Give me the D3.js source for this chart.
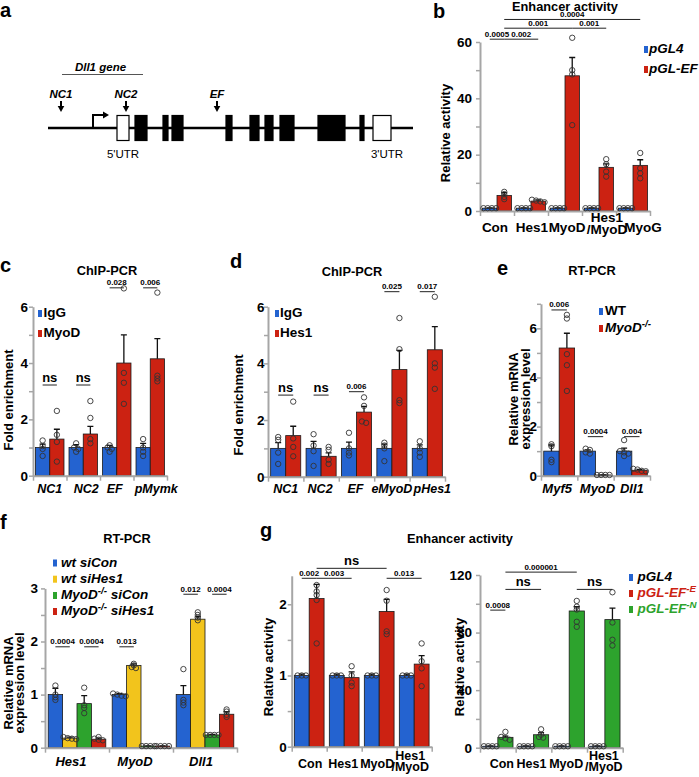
<!DOCTYPE html>
<html>
<head>
<meta charset="utf-8">
<script src="https://cdn.jsdelivr.net/npm/d3@7"></script>
<style>
  body { margin: 0; background: #fff; }
  svg { display: block; }
</style>
</head>
<body>
<svg id="fig" width="699" height="777"></svg>
<script>
//********************************************************************//
//                    DATA
//********************************************************************//

// panel a : gene model (arbitrary genomic units along the locus)
var geneLength = 365;
var exonStart = [69, 87, 115, 124, 178, 202, 217, 232, 270, 312, 325];
var exonEnd   = [81, 99, 120, 135, 184, 211, 225, 246, 297, 316, 343];
var exonOpen  = [true, false, false, false, false, false, false, false, false, false, true];
var tssPos = 45;
var probeNames = ["NC1", "NC2", "EF"];
var probePos = [13, 78, 169];

// panel b
var bGroups = ["Con", "Hes1", "MyoD", "Hes1/MyoD", "MyoG"];
var bSeries = ["pGL4", "pGL-EF"];
var bMean = [[1, 1, 1, 1, 1], [5.5, 3.5, 48, 15.5, 16.2]];
var bErr  = [[0.1, 0.1, 0.1, 0.1, 0.1], [1.0, 0.4, 6.5, 1.2, 2.0]];
var bDots = [[[1, 1, 1, 1], [1, 1, 1, 1], [1, 1, 1, 1], [1, 1, 1, 1], [1, 1, 1, 1]],
             [[6.8, 6.0, 5.0, 4.2], [4.0, 3.7, 3.4, 3.1], [61.5, 50, 48.5, 30.5], [18.4, 16.6, 14, 12.2], [20.6, 15.2, 13.4, 11.6]]];
var bSig = [{p: "0.0005", a: [0, 0], b: [0, 1], y: 61},
            {p: "0.002",  a: [0, 1], b: [1, 1], y: 61},
            {p: "0.001",  a: [0, 1], b: [2, 1], y: 64.9},
            {p: "0.001",  a: [2, 1], b: [3, 1], y: 64.9},
            {p: "0.0004", a: [0, 1], b: [4, 1], y: 68}];

// panel c
var cGroups = ["NC1", "NC2", "EF", "pMymk"];
var cSeries = ["IgG", "MyoD"];
var cMean = [[1, 1, 1, 1], [1.3, 1.48, 4.0, 4.15]];
var cErr  = [[0.12, 0.1, 0.08, 0.15], [0.35, 0.27, 1.0, 0.72]];
var cDots = [[[1.25, 1.05, 0.95, 0.7], [1.15, 1.0, 0.95, 0.85], [1.08, 1.0, 0.95, 0.85], [1.3, 1.0, 0.85, 0.7]],
             [[2.3, 1.45, 1.2, 0.5], [2.65, 2.05, 1.3, 1.15], [6.65, 3.65, 3.3, 2.55], [6.5, 3.55, 3.45, 3.35]]];
var cSig = [{p: "ns", a: [0, 0], b: [0, 1], y: 3.22},
            {p: "ns", a: [1, 0], b: [1, 1], y: 3.22},
            {p: "0.028", a: [2, 0], b: [2, 1], y: 6.67},
            {p: "0.006", a: [3, 0], b: [3, 1], y: 6.67}];

// panel d
var dGroups = ["NC1", "NC2", "EF", "eMyoD", "pHes1"];
var dSeries = ["IgG", "Hes1"];
var dMean = [[1, 1, 1, 1, 1], [1.45, 0.72, 2.28, 3.78, 4.48]];
var dErr  = [[0.2, 0.25, 0.22, 0.15, 0.12], [0.33, 0.12, 0.2, 0.68, 0.82]];
var dDots = [[[1.4, 1.3, 0.85, 0.45], [1.5, 1.1, 0.9, 0.38], [1.55, 1.0, 0.85, 0.75], [1.2, 1.1, 1.0, 0.55], [1.25, 1.0, 0.85, 0.7]],
             [[2.65, 1.35, 1.05, 0.72], [1.05, 0.95, 0.6, 0.45], [2.8, 2.5, 1.95, 1.9], [5.6, 4.5, 2.7, 2.6], [6.35, 4.0, 3.85, 3.1]]];
var dSig = [{p: "ns", a: [0, 0], b: [0, 1], y: 2.88},
            {p: "ns", a: [1, 0], b: [1, 1], y: 2.88},
            {p: "0.006", a: [2, 0], b: [2, 1], y: 3.0},
            {p: "0.025", a: [3, 0], b: [3, 1], y: 6.53},
            {p: "0.017", a: [4, 0], b: [4, 1], y: 6.53}];

// panel e
var eGroups = ["Myf5", "MyoD", "Dll1"];
var eSeries = ["WT", "MyoD^{-/-}"];
var eMean = [[1, 1, 1], [5.2, 0.03, 0.22]];
var eErr  = [[0.25, 0.05, 0.12], [0.6, 0.005, 0.04]];
var eDots = [[[1.28, 1.2, 0.65, 0.55], [1.1, 1.05, 0.95, 0.9], [1.45, 1.0, 0.95, 0.9, 0.8]],
             [[6.55, 6.4, 4.95, 4.5, 3.45], [0.03, 0.03, 0.03, 0.03], [0.28, 0.25, 0.2, 0.18]]];
var eSig = [{p: "0.006", a: [0, 0], b: [0, 1], y: 6.75},
            {p: "0.0004", a: [1, 0], b: [1, 1], y: 1.59},
            {p: "0.004", a: [2, 0], b: [2, 1], y: 1.59}];

// panel f
var fGroups = ["Hes1", "MyoD", "Dll1"];
var fSeries = ["wt siCon", "wt siHes1", "MyoD^{-/-} siCon", "MyoD^{-/-} siHes1"];
var fMean = [[1, 1, 1], [0.18, 1.55, 2.42], [0.83, 0.03, 0.24], [0.16, 0.03, 0.63]];
var fErr  = [[0.12, 0.02, 0.17], [0.02, 0.03, 0.05], [0.15, 0.003, 0.01], [0.02, 0.003, 0.05]];
var fDots = [[[1.17, 1.0, 0.95, 0.9], [1.02, 1.0, 0.98, 0.97], [1.48, 0.9, 0.85, 0.8]],
             [[0.2, 0.18, 0.17, 0.16], [1.58, 1.55, 1.52, 1.5], [2.55, 2.5, 2.45, 2.4]],
             [[1.13, 0.8, 0.75, 0.65], [0.03, 0.03, 0.03, 0.03], [0.24, 0.24, 0.24, 0.24]],
             [[0.2, 0.17, 0.15, 0.14], [0.03, 0.03, 0.03, 0.03], [0.72, 0.68, 0.62, 0.58]]];
var fSig = [{p: "0.0004", a: [0, 0], b: [0, 1], y: 1.9},
            {p: "0.0004", a: [0, 2], b: [0, 3], y: 1.9},
            {p: "0.013", a: [1, 0], b: [1, 1], y: 1.9},
            {p: "0.012", a: [2, 0], b: [2, 1], y: 2.89},
            {p: "0.0004", a: [2, 2], b: [2, 3], y: 2.89}];

// panel g
var gGroups = ["Con", "Hes1", "MyoD", "Hes1/MyoD"];
var gLegend = ["pGL4", "pGL-EF^{-E}", "pGL-EF^{-N}"];
var gLMean = [[1, 1, 1, 1], [2.08, 0.97, 1.9, 1.16]];
var gLErr  = [[0.02, 0.02, 0.02, 0.02], [0.2, 0.08, 0.17, 0.12]];
var gLDots = [[[1, 1, 1], [1, 1, 1], [1, 1, 1], [1, 1, 1]],
              [[2.27, 2.18, 2.13, 2.06, 1.45], [1.13, 1.0, 0.9, 0.85], [2.2, 2.05, 1.62, 1.58], [1.45, 1.2, 1.1, 0.85]]];
var gLSig = [{p: "0.002", a: [0, 0], b: [0, 1], y: 2.365},
             {p: "0.003", a: [0, 1], b: [1, 1], y: 2.365},
             {p: "0.013", a: [2, 1], b: [3, 1], y: 2.365},
             {p: "ns", a: [0, 1], b: [2, 1], y: 2.505}];
var gRMean = [[1, 1, 1, 1], [7.2, 9.0, 95, 89]];
var gRErr  = [[0.3, 0.3, 0.3, 0.3], [0.8, 1.5, 3, 8]];
var gRDots = [[[1, 1, 1, 1], [1, 1, 1, 1], [1, 1, 1, 1], [1, 1, 1, 1]],
              [[11, 7.5, 6.5, 5.5], [12.8, 9, 7.5, 7], [102, 98, 96, 87.5, 84], [108, 87, 75, 71]]];
var gRSig = [{p: "0.0008", a: [0, 0], b: [0, 1], y: 95.6},
             {p: "ns", a: [0, 1], b: [1, 1], y: 110},
             {p: "0.000001", a: [0, 1], b: [2, 1], y: 122},
             {p: "ns", a: [2, 1], b: [3, 1], y: 110}];

//********************************************************************//
//                    STYLE
//********************************************************************//
var FONT = "'Liberation Sans', Arial, Helvetica, sans-serif";
var BLUE = "#2463d0", RED = "#cc2212", GREEN = "#2da32d", YELLOW = "#f2c41c";
var AXIS = "#a6a6a6";

var svg = d3.select("#fig").attr("font-family", FONT);

// write "abc^{sup}def" as tspans with raised superscript
function rich(sel, str) {
  var parts = str.split(/(\^\{[^}]*\})/), raised = false;
  parts.forEach(function(p) {
    if (!p) return;
    if (p.charAt(0) === "^") {
      sel.append("tspan").attr("dy", -5).attr("font-size", "0.72em").text(p.slice(2, -1));
      raised = true;
    } else {
      var t = sel.append("tspan").text(p);
      if (raised) { t.attr("dy", 5); raised = false; }
    }
  });
}

function label(x, y, str, size, opts) {
  opts = opts || {};
  var t = svg.append("text").attr("x", x).attr("y", y)
    .attr("font-size", size)
    .attr("font-weight", opts.normal ? "normal" : "bold")
    .attr("font-style", opts.italic ? "italic" : "normal")
    .attr("text-anchor", opts.anchor || "start")
    .attr("fill", opts.fill || "#000");
  rich(t, str);
  return t;
}

function legend(names, colors, x, gap, baselines, textColors) {
  names.forEach(function(n, i) {
    svg.append("rect").attr("x", x).attr("y", baselines[i] - 7).attr("width", 4).attr("height", 7)
       .attr("fill", colors[i]);
    label(x + gap, baselines[i], n, 13.5, {italic: /pGL|wt|MyoD\^/.test(n), fill: textColors ? textColors[i] : "#000"});
  });
}

//********************************************************************//
//                    BAR PANEL
//********************************************************************//
function barPanel(c) {
  var g = svg.append("g");
  var n = c.groups.length, m = c.colors.length;
  var occ = c.occ || 0.85;
  var y = d3.scaleLinear().domain([0, c.yMax]).range([c.y0, c.yTop]);
  var x = d3.scaleBand().domain(d3.range(n)).range([c.x0, c.x1]);
  var xs = d3.scaleBand().domain(d3.range(m)).range([0, x.bandwidth()])
             .paddingOuter(m * (1 - occ) / (2 * occ));
  var xb = d3.scaleLinear().domain([0, n]).range([c.x0, c.x1]);
  function cx(gi, si) { return x(gi) + xs(si) + xs.bandwidth() / 2; }

  // bars
  c.mean.forEach(function(ser, si) {
    g.selectAll(null).data(ser).enter().append("rect")
     .attr("x", function(d, i) { return x(i) + xs(si); })
     .attr("y", function(d) { return y(d); })
     .attr("width", xs.bandwidth())
     .attr("height", function(d) { return c.y0 - y(d); })
     .attr("fill", c.colors[si])
     .attr("stroke", "#1a1a1a").attr("stroke-width", 0.8);
  });

  // axes
  var ya = d3.axisLeft(y)
    .tickValues(d3.range(0, c.yMax + 1e-9, c.tickStep))
    .tickSize(4).tickSizeOuter(0).tickPadding(c.labGap - 4)
    .tickFormat(function(v) {
      var r = v / c.labelStep;
      return Math.abs(r - Math.round(r)) < 1e-6 ? d3.format("")(v) : "";
    });
  var ay = g.append("g").attr("transform", "translate(" + c.x0 + ",0)").call(ya);
  ay.attr("font-size", 13.5).attr("font-family", FONT).attr("font-weight", "bold");
  ay.select(".domain").attr("stroke", AXIS).attr("stroke-width", 2);
  ay.selectAll(".tick line").attr("stroke", AXIS).attr("stroke-width", 1.5);
  ay.selectAll(".tick text").attr("fill", "#000");

  var xa = d3.axisBottom(xb).tickValues(d3.range(n + 1)).tickSize(5).tickSizeOuter(0).tickFormat("");
  var ax = g.append("g").attr("transform", "translate(0," + c.y0 + ")").call(xa);
  ax.select(".domain").attr("stroke", AXIS).attr("stroke-width", 2);
  ax.selectAll(".tick line").attr("stroke", AXIS).attr("stroke-width", 1.5);

  // error bars
  c.err.forEach(function(ser, si) {
    g.selectAll(null).data(ser).enter().append("path")
     .attr("d", function(e, i) {
        var xx = cx(i, si), y1 = y(c.mean[si][i]), y2 = y(c.mean[si][i] + e);
        return "M" + xx + "," + y1 + "V" + y2 + "M" + (xx - 3) + "," + y2 + "H" + (xx + 3);
     })
     .attr("fill", "none").attr("stroke", "#111").attr("stroke-width", 1.3);
  });

  // dots: equal values spread sideways, others stacked on the bar centre
  var pts = [];
  c.dots.forEach(function(ser, si) {
    ser.forEach(function(vals, gi) {
      var py = vals.map(function(v) { return y(v); }).sort(function(a, b) { return a - b; });
      var k = 0;
      while (k < py.length) {
        var j = k;
        while (j + 1 < py.length && py[j + 1] - py[j] < 1.5) j++;
        var cnt = j - k + 1;
        for (var q = 0; q < cnt; q++) {
          pts.push({x: cx(gi, si) + (q - (cnt - 1) / 2) * 4.2, y: py[k + q]});
        }
        k = j + 1;
      }
    });
  });
  g.selectAll(null).data(pts).enter().append("circle")
   .attr("cx", function(d) { return d.x; })
   .attr("cy", function(d) { return d.y; })
   .attr("r", 2.7)
   .attr("fill", "none").attr("stroke", "#333").attr("stroke-width", 0.9);

  // significance brackets
  c.sig.forEach(function(s) {
    var xa1 = cx(s.a[0], s.a[1]), xa2 = cx(s.b[0], s.b[1]), yy = y(s.y);
    g.append("line").attr("x1", xa1).attr("x2", xa2).attr("y1", yy).attr("y2", yy)
     .attr("stroke", "#222").attr("stroke-width", 1);
    g.append("text").attr("x", (xa1 + xa2) / 2).attr("y", yy - (s.p === "ns" ? 3 : 2.5))
     .attr("text-anchor", "middle").attr("font-weight", "bold")
     .attr("font-size", s.p === "ns" ? 13 : 8).text(s.p);
  });

  // category labels
  c.groups.forEach(function(lab, i) {
    var parts = lab.split(/(?=\/)/);
    var xx = x(i) + x.bandwidth() / 2 + (c.labDx ? c.labDx[i] : 0);
    var ys = parts.length === 1 ? [c.labY] : c.labY2;
    parts.forEach(function(p, k) {
      g.append("text").attr("x", xx).attr("y", ys[k]).attr("text-anchor", "middle")
       .attr("font-size", c.labSize).attr("font-weight", "bold")
       .attr("font-style", c.italic ? "italic" : "normal").text(p);
    });
  });

  // y title
  c.yTitle.forEach(function(t, k) {
    g.append("text").attr("transform", "translate(" + c.yTitleX[k] + "," + c.yTitleY + ") rotate(-90)")
     .attr("text-anchor", "middle").attr("font-size", 13).attr("font-weight", "bold").text(t);
  });
}

//********************************************************************//
//                    PANEL A : gene model
//********************************************************************//
var xg = d3.scaleLinear().domain([0, geneLength]).range([48, 413]);
var lineY = 128;

svg.append("line").attr("x1", xg(0)).attr("x2", xg(geneLength)).attr("y1", lineY).attr("y2", lineY)
   .attr("stroke", "#000").attr("stroke-width", 2.6);

svg.selectAll(null).data(exonStart).enter().append("rect")
   .attr("x", function(d) { return xg(d); })
   .attr("width", function(d, i) { return xg(exonEnd[i]) - xg(d); })
   .attr("y", 115.5).attr("height", 25)
   .attr("fill", function(d, i) { return exonOpen[i] ? "#fff" : "#000"; })
   .attr("stroke", "#000").attr("stroke-width", 1.2);

// transcription start arrow
var tx = xg(tssPos);
svg.append("path").attr("d", "M" + tx + "," + lineY + "V115H" + (tx + 11))
   .attr("fill", "none").attr("stroke", "#000").attr("stroke-width", 2);
svg.append("path").attr("d", "M" + (tx + 10) + ",111.5L" + (tx + 16) + ",115L" + (tx + 10) + ",118.5Z")
   .attr("fill", "#000");

// probes
probeNames.forEach(function(nm, i) {
  var px = xg(probePos[i]);
  label(px, 98, nm, 11.5, {italic: true, anchor: "middle"});
  svg.append("line").attr("x1", px).attr("x2", px).attr("y1", 101).attr("y2", 107)
     .attr("stroke", "#000").attr("stroke-width", 2);
  svg.append("path").attr("d", "M" + (px - 3.3) + ",106L" + (px + 3.3) + ",106L" + px + ",112Z").attr("fill", "#000");
});

label(100.5, 71, "Dll1 gene", 11.5, {italic: true, anchor: "middle"});
svg.append("line").attr("x1", 62).attr("x2", 143).attr("y1", 74.5).attr("y2", 74.5)
   .attr("stroke", "#555").attr("stroke-width", 1);
label(xg((exonStart[0] + exonEnd[0]) / 2), 158, "5'UTR", 11.5, {normal: true, anchor: "middle"});
label(xg((exonStart[10] + exonEnd[10]) / 2) + 5, 158, "3'UTR", 11.5, {normal: true, anchor: "middle"});

//********************************************************************//
//                    BAR PANELS
//********************************************************************//
barPanel({groups: bGroups, colors: [BLUE, RED], mean: bMean, err: bErr, dots: bDots, sig: bSig,
          x0: 480, x1: 650, y0: 211, yTop: 42, yMax: 60, tickStep: 10, labelStep: 20, labGap: 8,
          labY: 231.5, labY2: [222, 233.5], italic: false, labSize: 13.5, labDx: [-2, 1, 2, 8, 10],
          yTitle: ["Relative activity"], yTitleX: [449.5], yTitleY: 133});
legend(bSeries, [BLUE, RED], 644, 5, [53, 73]);

barPanel({groups: cGroups, colors: [BLUE, RED], mean: cMean, err: cErr, dots: cDots, sig: cSig,
          x0: 33, x1: 167, y0: 475.7, yTop: 306.7, yMax: 6, tickStep: 1, labelStep: 2, labGap: 5,
          labY: 492.5, italic: true, labSize: 12.5, labDx: [0, 3, -2, 6],
          yTitle: ["Fold enrichment"], yTitleX: [12.5], yTitleY: 400});
legend(cSeries, [BLUE, RED], 38, 5.5, [317, 337]);

barPanel({groups: dGroups, colors: [BLUE, RED], mean: dMean, err: dErr, dots: dDots, sig: dSig,
          x0: 268, x1: 445, y0: 476.7, yTop: 306.7, yMax: 6, tickStep: 1, labelStep: 2, labGap: 3.5,
          labY: 492.5, italic: true, labSize: 12.5, labDx: [0, -1, -1, 0, 5],
          yTitle: ["Fold enrichment"], yTitleX: [242.5], yTitleY: 405});
legend(dSeries, [BLUE, RED], 275, 5, [317, 337]);

barPanel({groups: eGroups, colors: [BLUE, RED], mean: eMean, err: eErr, dots: eDots, sig: eSig,
          x0: 541, x1: 650, y0: 475.7, yTop: 303.8, yMax: 7, tickStep: 1, labelStep: 2, labGap: 4,
          labY: 493, italic: true, labSize: 13, labDx: [-2, 2, 0],
          yTitle: ["Relative mRNA", "expression level"], yTitleX: [518, 529.5], yTitleY: 399});
legend(eSeries, [BLUE, RED], 599, 6, [315, 332]);

barPanel({groups: fGroups, colors: [BLUE, YELLOW, GREEN, RED], mean: fMean, err: fErr, dots: fDots, sig: fSig,
          x0: 45, x1: 237, y0: 747.7, yTop: 588.4, yMax: 3, tickStep: 0.5, labelStep: 1, labGap: 7, occ: 0.9,
          labY: 766, italic: true, labSize: 13, labDx: [-6, -6, -4],
          yTitle: ["Relative mRNA", "expression level"], yTitleX: [13, 23.5], yTitleY: 683});
legend(fSeries, [BLUE, YELLOW, GREEN, RED], 53, 8, [566.5, 582.7, 599, 615]);

barPanel({groups: gGroups, colors: [BLUE, RED], mean: gLMean, err: gLErr, dots: gLDots, sig: gLSig,
          x0: 291.7, x1: 431.7, y0: 746.7, yTop: 575.8, yMax: 2.4, tickStep: 0.5, labelStep: 1, labGap: 5,
          labY: 768, labY2: [759.5, 771], italic: false, labSize: 12.5, labDx: [1, -1, -2, -4],
          yTitle: ["Relative activity"], yTitleX: [272.5], yTitleY: 667});

barPanel({groups: gGroups, colors: [BLUE, GREEN], mean: gRMean, err: gRErr, dots: gRDots, sig: gRSig,
          x0: 480, x1: 622.7, y0: 747.7, yTop: 575, yMax: 120, tickStep: 20, labelStep: 40, labGap: 8,
          labY: 768, labY2: [759.5, 771], italic: false, labSize: 12.5, labDx: [4, -2, -3, -1],
          yTitle: ["Relative activity"], yTitleX: [463.5], yTitleY: 667});
legend(gLegend, [BLUE, RED, GREEN], 629, 8.5, [581, 597, 613], ["#000", RED, GREEN]);

//********************************************************************//
//                    TITLES + PANEL LETTERS
//********************************************************************//
label(565, 10.5, "Enhancer activity", 12.8, {anchor: "middle"});
label(107, 275, "ChIP-PCR", 12.8, {anchor: "middle"});
label(352, 275.5, "ChIP-PCR", 12.8, {anchor: "middle"});
label(592, 275, "RT-PCR", 12.8, {anchor: "middle"});
label(127, 543, "RT-PCR", 12.8, {anchor: "middle"});
label(460, 543, "Enhancer activity", 12.8, {anchor: "middle"});

label(0, 17, "a", 20);
label(433, 18, "b", 20);
label(0, 272, "c", 20);
label(230, 268, "d", 20);
label(497, 275, "e", 20);
label(0, 529, "f", 20);
label(260, 537, "g", 20);
</script>
</body>
</html>
